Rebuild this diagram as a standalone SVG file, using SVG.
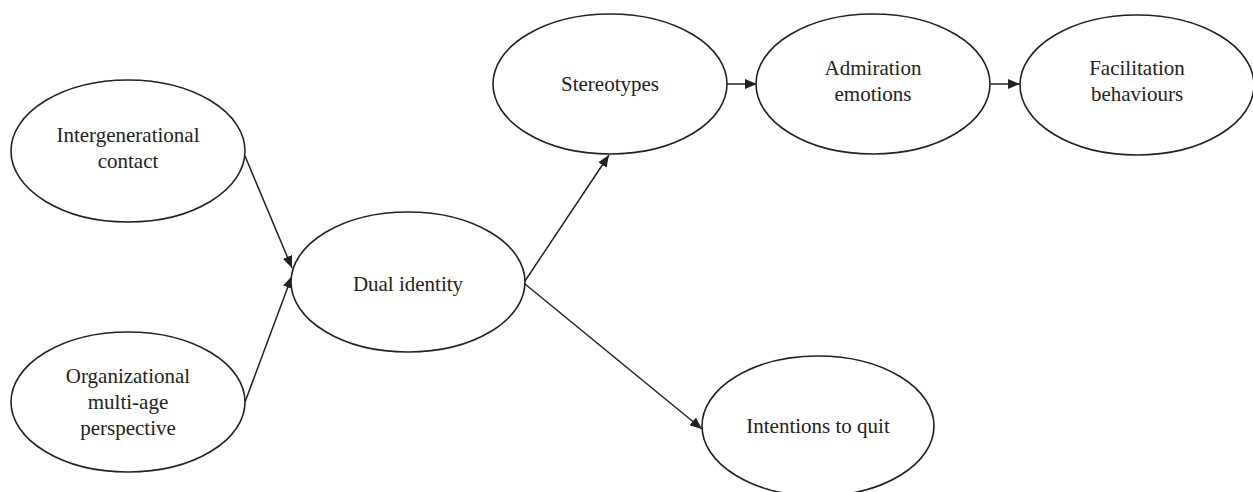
<svg xmlns="http://www.w3.org/2000/svg" width="1253" height="492" viewBox="0 0 1253 492">
<style>
.n{fill:#fff;stroke:#222;stroke-width:1.6}
.t{font-family:"Liberation Serif","Times New Roman",serif;font-size:21px;fill:#222;text-anchor:middle}
.c{stroke:#222;stroke-width:1.5;fill:none;marker-end:url(#ah)}
</style>
<defs>
<marker id="ah" viewBox="0 0 12 10" refX="12" refY="5" markerWidth="12" markerHeight="10" markerUnits="userSpaceOnUse" orient="auto">
<path d="M0,0 L12,5 L0,10 Z" fill="#222"/>
</marker>
</defs>
<rect width="1253" height="492" fill="#fff"/>
<g id="connectors">
<line class="c" x1="245" y1="156" x2="292" y2="268"/>
<line class="c" x1="245" y1="402" x2="292" y2="276"/>
<line class="c" x1="525" y1="281" x2="609" y2="155"/>
<line class="c" x1="726" y1="84" x2="757" y2="84"/>
<line class="c" x1="990" y1="84" x2="1020" y2="84"/>
<line class="c" x1="525" y1="284" x2="702" y2="429"/>
</g>
<g id="intergenerational">
<ellipse class="n" cx="128" cy="151" rx="117" ry="71"/>
<text class="t" x="128" y="142">Intergenerational</text>
<text class="t" x="128" y="168">contact</text>
</g>
<g id="organizational">
<ellipse class="n" cx="128" cy="402" rx="117" ry="70"/>
<text class="t" x="128" y="383">Organizational</text>
<text class="t" x="128" y="409">multi-age</text>
<text class="t" x="128" y="435">perspective</text>
</g>
<g id="dual">
<ellipse class="n" cx="408" cy="282" rx="117" ry="70"/>
<text class="t" x="408" y="291">Dual identity</text>
</g>
<g id="stereotypes">
<ellipse class="n" cx="610" cy="84" rx="117" ry="70"/>
<text class="t" x="610" y="91">Stereotypes</text>
</g>
<g id="admiration">
<ellipse class="n" cx="873" cy="84" rx="117" ry="70"/>
<text class="t" x="873" y="75">Admiration</text>
<text class="t" x="873" y="101">emotions</text>
</g>
<g id="facilitation">
<ellipse class="n" cx="1137" cy="85" rx="117" ry="70"/>
<text class="t" x="1137" y="75">Facilitation</text>
<text class="t" x="1137" y="101">behaviours</text>
</g>
<g id="intentions">
<ellipse class="n" cx="818" cy="426" rx="116" ry="70"/>
<text class="t" x="818" y="433">Intentions to quit</text>
</g>
</svg>
